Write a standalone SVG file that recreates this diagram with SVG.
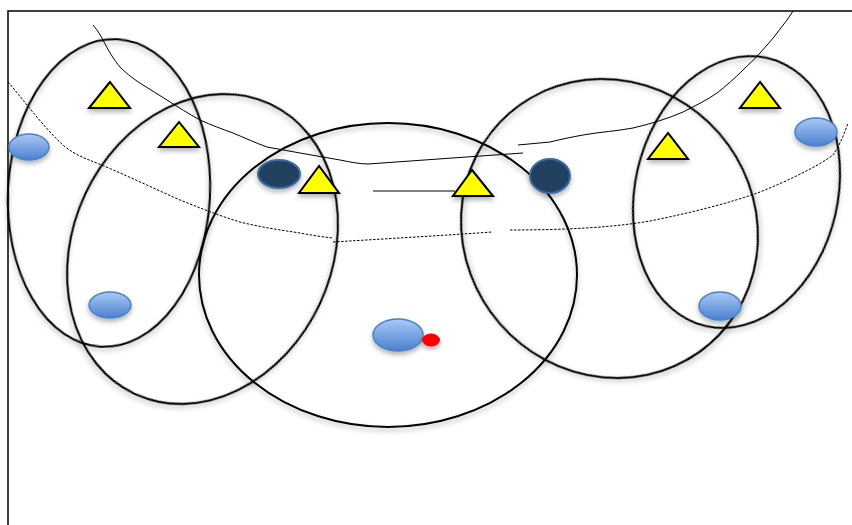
<svg xmlns="http://www.w3.org/2000/svg" width="852" height="525" viewBox="0 0 852 525">
<defs>
<linearGradient id="lb" x1="0" y1="0" x2="0" y2="1">
<stop offset="0" stop-color="#a9c9f7"/>
<stop offset="1" stop-color="#4a80d0"/>
</linearGradient>
<filter id="sh" x="-20%" y="-20%" width="140%" height="150%">
<feDropShadow dx="0" dy="3" stdDeviation="2.5" flood-color="#000" flood-opacity="0.3"/>
</filter>
</defs>
<style>
.zone{fill:none;stroke:#000;stroke-width:2;filter:url(#sh)}
.tri{fill:#ffff00;stroke:#000;stroke-width:2;stroke-linejoin:miter;filter:url(#sh)}
.att{fill:url(#lb);stroke:#4f81bd;stroke-width:1.5;filter:url(#sh)}
.def{fill:#243f60;stroke:#3d6aa0;stroke-width:2;filter:url(#sh)}
.thin{fill:none;stroke:#000;stroke-width:1}
.dash{fill:none;stroke:#000;stroke-width:1;stroke-dasharray:2.5 1.5}
</style>
<rect width="852" height="525" fill="#fff"/>
<g id="court">
<path d="M8,525 V11 H852" fill="none" stroke="#000" stroke-width="1.5"/>
</g>
<g id="lines">
<path class="thin" d="M93,25 C98,31 101,36 103,40 C108,50 114,60 120,67 C128,75 135,80 143,85 C151,90 159,95 167,100 C178,107 189,114 200,120 C211,125 222,129 233,133 C245,138 256,143 267,147 C278,149 289,151 300,153 C313,155 327,158 340,160 C350,162 360,164 368,164 L523,153"/>
<path class="thin" d="M373,191 H455"/>
<path class="thin" d="M518,145 L550,142 C562,139 572,137 583,135 C600,132 617,131 633,128 C650,124 667,119 683,112 C695,106 707,100 717,93 C726,86 735,78 743,70 C749,64 755,59 760,53 C766,46 772,40 777,33 C783,25 789,18 793,11"/>
<path class="dash" d="M8,82 C22,98 44,128 64,146 C78,157 90,160 104,166 C130,177 155,189 180,200 C200,208 220,216 240,222 C260,227 280,230 300,233 C311,235 322,237 333,238"/>
<path class="dash" d="M333,242 C400,238 450,235 492,232"/>
<path class="dash" d="M510,230 C560,230 610,228 650,221 C690,213 730,203 760,192 C790,180 820,165 833,155 C840,145 845,132 848,123"/>
</g>
<g id="zones">
<ellipse class="zone" cx="109" cy="193" rx="101" ry="154" transform="rotate(3 109 193)"/>
<ellipse class="zone" cx="202.5" cy="249" rx="129.5" ry="160" transform="rotate(25 202.5 249)"/>
<ellipse class="zone" cx="388" cy="275" rx="189" ry="152"/>
<ellipse class="zone" cx="609.5" cy="228.5" rx="145.2" ry="152.7" transform="rotate(-41 609.5 228.5)"/>
<ellipse class="zone" cx="736.5" cy="192" rx="101.4" ry="137.6" transform="rotate(13 736.5 192)"/>
</g>
<g id="defenders">
<polygon class="tri" points="110,82 89,108 130,108"/>
<polygon class="tri" points="179,122 159,147 199,147"/>
<polygon class="tri" points="319,166 299,193 339,193"/>
<polygon class="tri" points="472,170 453,196 493,196"/>
<polygon class="tri" points="668,133 648,159 688,159"/>
<polygon class="tri" points="760,82 740,108 780,108"/>
</g>
<g id="attackers">
<ellipse class="att" cx="29" cy="147" rx="20" ry="13"/>
<ellipse class="att" cx="110" cy="305" rx="21" ry="13"/>
<ellipse class="att" cx="398" cy="335" rx="25" ry="16"/>
<ellipse class="att" cx="816" cy="132" rx="21" ry="14"/>
<ellipse class="att" cx="720" cy="306" rx="21" ry="14"/>
<ellipse class="def" cx="279" cy="174" rx="21" ry="14"/>
<ellipse class="def" cx="550" cy="176" rx="20" ry="17"/>
</g>
<g id="ball">
<ellipse cx="431" cy="340" rx="9" ry="6.5" fill="#ff0000" filter="url(#sh)"/>
</g>
</svg>
